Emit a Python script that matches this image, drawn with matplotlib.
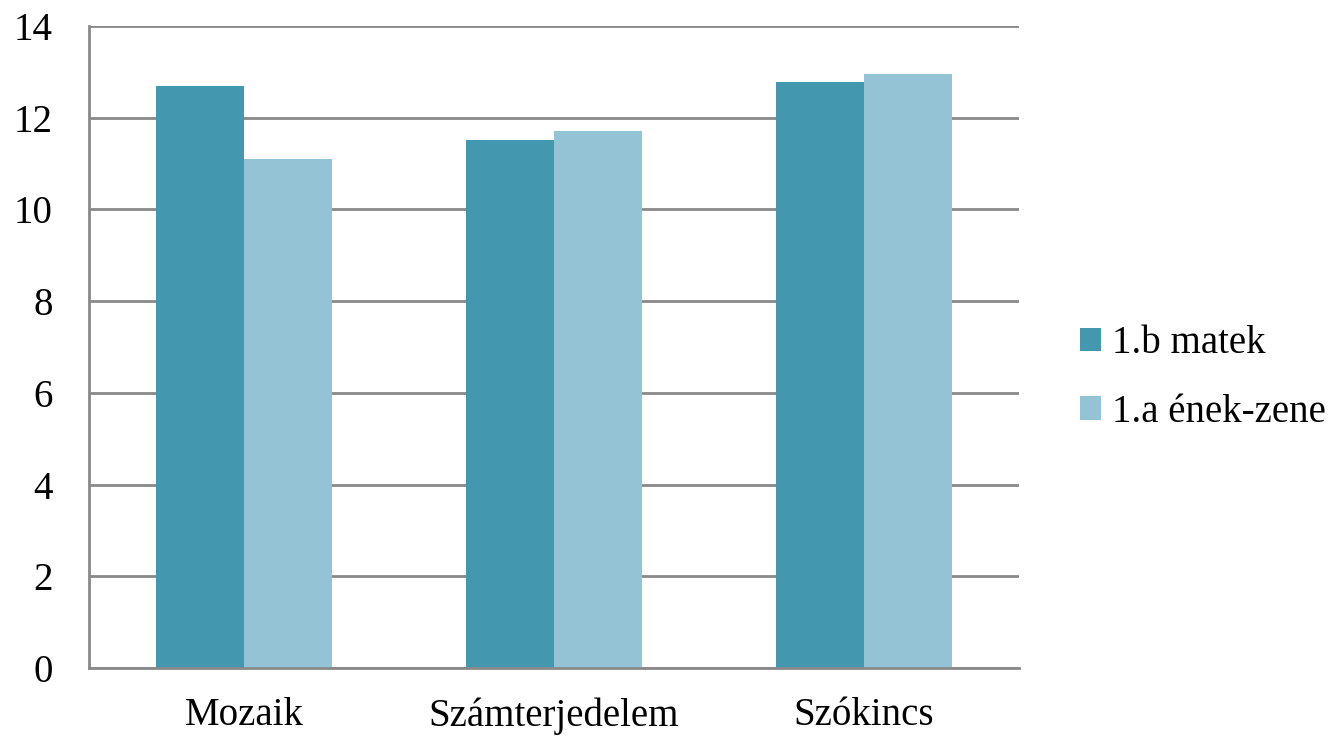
import matplotlib.pyplot as plt
import numpy as np

categories = ["Mozaik", "Számterjedelem", "Szókincs"]
matek = [12.7, 11.52, 12.78]
enek = [11.1, 11.7, 12.96]
series_names = ["1.b matek", "1.a ének-zene"]
yticks = [0, 2, 4, 6, 8, 10, 12, 14]

plt.rcParams['font.family'] = ['Liberation Serif', 'DejaVu Serif']

fig = plt.figure(figsize=(13.38, 7.36), dpi=100)
ax = fig.add_axes([89 / 1338, 1 - 668 / 736, 930 / 1338, 642 / 736])

x = np.arange(len(categories))
w = 0.284
ax.bar(x - w / 2, matek, w, color="#4398b0", label=series_names[0], zorder=3)
ax.bar(x + w / 2, enek, w, color="#93c3d4", label=series_names[1], zorder=3)

ax.set_xlim(-0.5, 2.5)
ax.set_ylim(0, 14)
ax.set_yticks(yticks)
ax.set_xticks(x)
ax.set_xticklabels(categories)
ax.tick_params(axis="both", length=0, labelsize=28)
ax.tick_params(axis="y", pad=26)
ax.tick_params(axis="x", pad=21)
ax.yaxis.grid(True, color="#898989", linewidth=2, zorder=0)
for side in ["top", "right"]:
    ax.spines[side].set_visible(False)
for side in ["left", "bottom"]:
    ax.spines[side].set_color("#898989")
    ax.spines[side].set_linewidth(2)
    ax.spines[side].set_zorder(4)

fig.legend(loc="center left", bbox_to_anchor=(1080 / 1338, 1 - 378 / 736),
           frameon=False, fontsize=28, handlelength=0.55, handleheight=0.55,
           handletextpad=0.28, labelspacing=0.8, borderpad=0, borderaxespad=0)

fig.savefig("out.png", dpi=100)
